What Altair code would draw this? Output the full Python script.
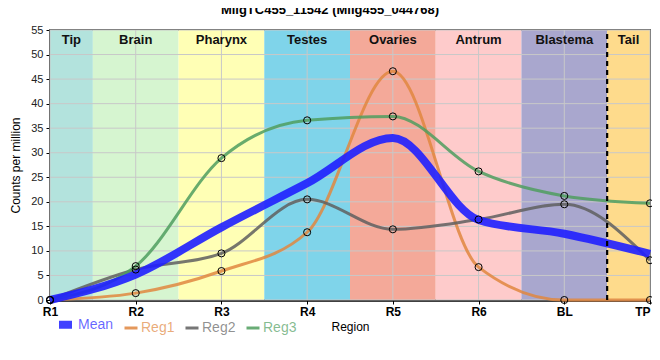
import json
import altair as alt
import pandas as pd

# ---- data ----
regions = ["R1", "R2", "R3", "R4", "R5", "R6", "BL", "TP"]
mean = [0, 5.2, 14.8, 23.8, 33.0, 16.3, 13.5, 9.4]
reg1 = [0, 1.4, 5.9, 13.8, 46.6, 6.7, 0, 0]
reg2 = [0, 6.2, 9.5, 20.5, 14.4, 16.4, 19.5, 8.1]
reg3 = [0, 6.9, 28.9, 36.6, 37.4, 26.2, 21.2, 19.7]

band_names = ["Tip", "Brain", "Pharynx", "Testes", "Ovaries", "Antrum", "Blastema", "Tail"]
band_start = [0, 0.5, 1.5, 2.5, 3.5, 4.5, 5.5, 6.5]
band_end = [0.5, 1.5, 2.5, 3.5, 4.5, 5.5, 6.5, 7]
band_colors = ["#b3e3dd", "#d6f5d0", "#ffffb5", "#7fd4ea", "#f4a999", "#fecbcb", "#a9a7ce", "#fedb8c"]

tail_boundary = [6.5]
y_ticks = list(range(0, 60, 5))
x_ticks = list(range(len(regions)))

series_names = ["Mean", "Reg1", "Reg2", "Reg3"]
series_colors = ["#1f1fff", "#e0873f", "#5f5f5f", "#4f9e5f"]
series_widths = [8, 3, 3, 3]

FONT = "Liberation Sans"

# ---- tables ----
rows = []
for name, vals in zip(series_names, [mean, reg1, reg2, reg3]):
    for i, v in enumerate(vals):
        rows.append({"series": name, "x": i, "y": v})
lines_df = pd.DataFrame(rows)
reg_df = lines_df[lines_df.series != "Mean"]
mean_df = lines_df[lines_df.series == "Mean"]

bands_df = pd.DataFrame({"name": band_names, "start": band_start, "end": band_end, "fill": band_colors})
xgrid_df = pd.DataFrame({"x": x_ticks})
ygrid_df = pd.DataFrame({"y": y_ticks})
tail_df = pd.DataFrame({"x": tail_boundary})

label_expr = json.dumps(regions) + "[datum.value]"
last_tick = x_ticks[-1]

xscale = alt.Scale(domain=[0, 7], nice=False, zero=False)
yscale = alt.Scale(domain=[0, 55], nice=False)
xaxis = alt.Axis(values=x_ticks, tickCount=len(x_ticks), labelExpr=label_expr, grid=False,
                 domainColor="black", domainWidth=2.5, tickColor="black", tickSize=4,
                 labelFontWeight="bold", labelFontSize=12, labelColor="black", labelFont=FONT,
                 labelAlign={"condition": {"test": f"datum.value == {last_tick}", "value": "right"},
                             "value": "center"},
                 titleFont=FONT, titleFontWeight="normal", titleFontSize=12, titleColor="black",
                 titlePadding=4, labelPadding=2, labelFlush=False, labelOverlap=False)
yaxis = alt.Axis(values=y_ticks, tickCount=len(y_ticks), grid=False, domainColor="black",
                 domainWidth=2, tickColor="black", tickSize=4, labelFontSize=11, labelColor="#222",
                 labelFont=FONT, titleFont=FONT, titleFontWeight="normal", titleFontSize=12,
                 titleColor="black", titlePadding=8, labelPadding=3, labelFlush=False,
                 labelOverlap=False)


def X(field):
    return alt.X(field, type="quantitative", scale=xscale, axis=xaxis, title="Region")


def Y(field):
    return alt.Y(field, type="quantitative", scale=yscale, axis=yaxis, title="Counts per million")


legend = alt.Legend(orient="none", legendX=5, legendY=284, direction="horizontal", title=None,
                    symbolType="stroke", symbolSize=169, labelFontSize=14, labelFont=FONT,
                    symbolOffset=0, labelOffset=2, columnPadding=4,
                    labelColor=alt.ExprRef("scale('color', datum.value)"), labelOpacity=0.7)

color = alt.Color("series:N", scale=alt.Scale(domain=series_names, range=series_colors), legend=legend)
swidth = alt.StrokeWidth("series:N", scale=alt.Scale(type="ordinal", domain=series_names, range=series_widths),
                         legend=legend)

bands = alt.Chart(bands_df).mark_rect().encode(
    x=X("start"), x2="end", y=Y("y0"), y2="y1",
    color=alt.Color("fill:N", scale=None),
).transform_calculate(y0="0", y1="55")

band_text = alt.Chart(bands_df).transform_calculate(mid="(datum.start + datum.end) / 2").mark_text(
    fontWeight="bold", fontSize=13, font=FONT, color="#111", baseline="middle"
).encode(x=X("mid"), y=alt.value(10), text="name:N")

xgrid = alt.Chart(xgrid_df).mark_rule(color="#c8c8c8", strokeWidth=1).encode(
    x=X("x"), y=alt.datum(0), y2=alt.datum(55))
ygrid = alt.Chart(ygrid_df).mark_rule(color="#c8c8c8", strokeWidth=1).encode(
    y=Y("y"), x=alt.datum(0), x2=alt.datum(7))

reg_lines = alt.Chart(reg_df).mark_line(interpolate="monotone", opacity=0.85).encode(
    x=X("x"), y=Y("y"), color=color, strokeWidth=swidth, detail="series:N")
mean_line = alt.Chart(mean_df).mark_line(interpolate="monotone", opacity=0.9).encode(
    x=X("x"), y=Y("y"), color=color, strokeWidth=swidth)

points = alt.Chart(reg_df).mark_point(shape="circle", filled=False, stroke="black",
                                       strokeWidth=1, size=50, opacity=1).encode(
    x=X("x"), y=Y("y"))

tail_rule = alt.Chart(tail_df).mark_rule(color="black", strokeWidth=2.2, strokeDash=[5, 4]).encode(
    x=X("x"), y=alt.datum(0), y2=alt.datum(55))

chart = alt.layer(bands, xgrid, ygrid, band_text, reg_lines, mean_line, points, tail_rule).properties(
    width=600, height=270,
    title=alt.TitleParams("MligTC455_11542 (Mlig455_044768)", fontSize=13, fontWeight="bold",
                          font=FONT, anchor="middle", dx=-20, offset=7, color="black"),
    padding={"left": 42, "top": 22, "right": 2, "bottom": 36},
    autosize=alt.AutoSizeParams(type="none"),
).configure_view(stroke="black", strokeWidth=1.5)

chart.save("out.html", embed_options={"renderer": "svg", "actions": False})
